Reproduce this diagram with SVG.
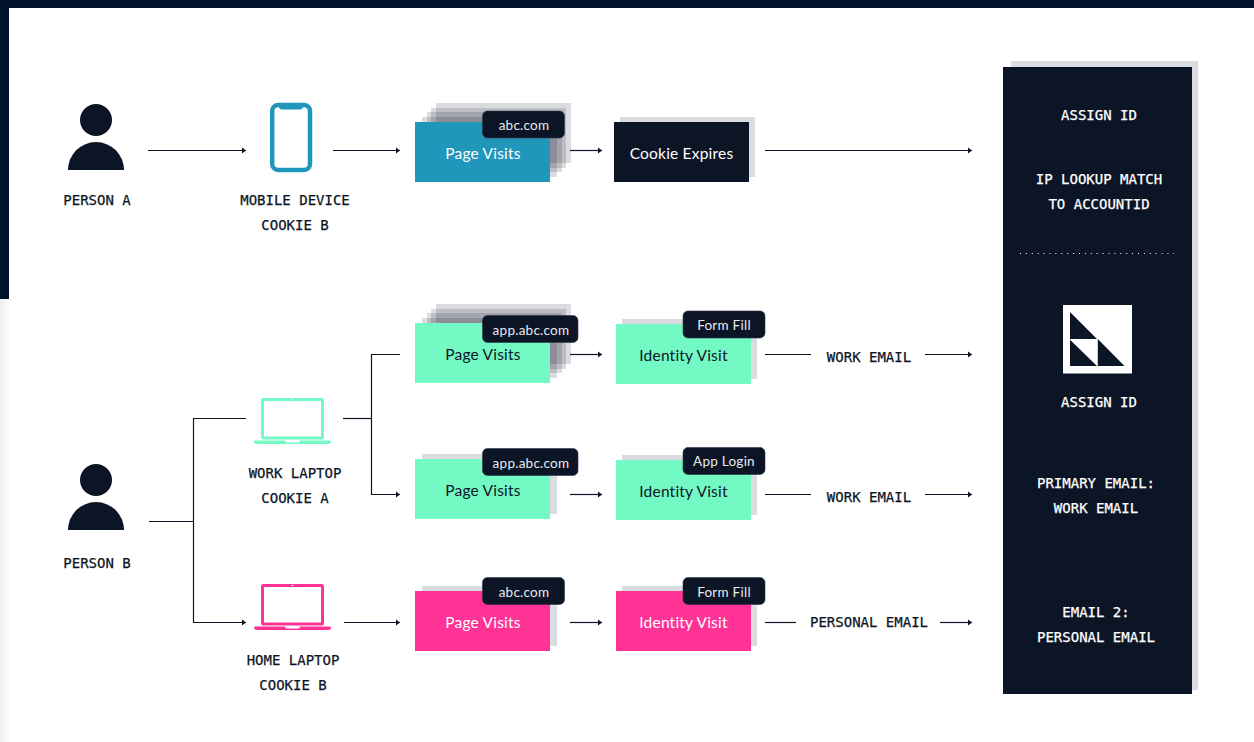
<svg xmlns="http://www.w3.org/2000/svg" width="1254" height="742" viewBox="0 0 1254 742">
<style>
.l{font-family:"DejaVu Sans Mono","Liberation Mono",monospace;font-size:14px;fill:#0c1526;stroke:#0c1526;stroke-width:.25;text-anchor:middle}
.w{fill:#fff;stroke:#fff}
.s{font-family:Lato,"Noto Sans",sans-serif;font-size:15.5px;text-anchor:middle;letter-spacing:.2px}
.t{font-family:Lato,"Noto Sans",sans-serif;font-size:13.5px;text-anchor:middle;fill:#e8eaee;letter-spacing:.25px}
.dk{fill:#0c1526}
.sh{fill:#0c1526;opacity:.15}
.tag{fill:#0c1526;stroke:#2b3446;stroke-width:.6}
.c{fill:none;stroke:#0c1526;stroke-width:1.2}
.a{marker-end:url(#ah)}
.g{fill:#73f9c3}.b{fill:#2196bb}.p{fill:#ff3396}
</style>
<defs>
<linearGradient id="strip" x1="0" y1="0" x2="1" y2="0"><stop offset="0" stop-color="#efefef"/><stop offset="1" stop-color="#fbfbfb"/></linearGradient>
<marker id="ah" markerUnits="userSpaceOnUse" markerWidth="6" markerHeight="8" refX="5" refY="4" orient="auto"><path d="M1 1L5 4L1 7Z" fill="#0c1526"/></marker>
<path id="person" d="M68 170a28 28 0 0 1 56 0Z"/>
<g id="laptop" fill="none">
<rect x="262.500" y="399.500" width="60" height="38.500" rx="1" stroke-width="3"/>
<circle cx="292.500" cy="399.500" r=".8" fill="#fff" stroke="none"/>
<path d="M255 440.500H285q0 2 2 2H298q2 0 2-2H330a1 1 0 0 1 1 1q0 2.500-3 2.500H257q-3 0-3-2.500a1 1 0 0 1 1-1Z" stroke="none" fill="currentColor"/>
</g>
</defs>
<rect width="1254" height="742" fill="#fff"/>
<rect x="0" y="299" width="9" height="443" fill="url(#strip)"/>
<path d="M0 0H1254V8H9V299H0Z" fill="#00112a"/>

<g id="connectors">
<path class="c a" d="M148 150.500H246"/>
<path class="c a" d="M333 150.500H400"/>
<path class="c a" d="M570 150.500H602"/>
<path class="c a" d="M765 150.500H972"/>
<path class="c" d="M149 521.500H193.500"/>
<path class="c a" d="M246 418.500H193.500V622.500H246"/>
<path class="c" d="M343 418.500H371.500"/>
<path class="c a" d="M400 354.500H371.500V494.500H400"/>
<path class="c a" d="M344 622.500H400"/>
<path class="c a" d="M570 354.500H602"/>
<path class="c" d="M765 354.500H811"/>
<path class="c a" d="M925 354.500H972"/>
<path class="c a" d="M570 494.500H602"/>
<path class="c" d="M765 494.500H811"/>
<path class="c a" d="M925 494.500H972"/>
<path class="c a" d="M570 622.500H602"/>
<path class="c" d="M765 622.500H796"/>
<path class="c a" d="M940 622.500H972"/>
</g>

<g id="person-a">
<circle class="dk" cx="96" cy="120" r="16"/><use href="#person" class="dk"/>
<text class="l" x="97" y="205">PERSON A</text>
</g>
<g id="mobile-device">
<path d="M272.200 111a6 6 0 0 1 6-6H304a6 6 0 0 1 6 6V164a6 6 0 0 1-6 6H278.200a6 6 0 0 1-6-6Z" fill="none" stroke="#2196bb" stroke-width="4.500"/>
<path d="M279 105H303V106.500a3 3 0 0 1-3 3H282a3 3 0 0 1-3-3Z" fill="#2196bb"/>
<text class="l" x="295" y="205">MOBILE DEVICE</text>
<text class="l" x="295" y="230">COOKIE B</text>
</g>
<g id="page-visits-a">
<rect class="sh" x="436" y="103" width="135" height="60"/><rect class="sh" x="431" y="108" width="135" height="60"/><rect class="sh" x="427" y="112" width="135" height="60"/><rect class="sh" x="422" y="117" width="135" height="60"/>
<rect class="b" x="415" y="122" width="135" height="60"/>
<text class="s w" style="stroke:none" x="483" y="159">Page Visits</text>
<rect class="tag" x="482.500" y="111" width="82" height="27" rx="5"/>
<text class="t" x="524" y="130">abc.com</text>
</g>
<g id="cookie-expires">
<rect class="sh" x="620" y="117" width="135" height="60"/>
<rect class="dk" x="614" y="122" width="135" height="60"/>
<text class="s w" style="stroke:none" x="681.500" y="159">Cookie Expires</text>
</g>

<g id="person-b">
<circle class="dk" cx="96" cy="480" r="16"/><use href="#person" y="360" class="dk"/>
<text class="l" x="97" y="568">PERSON B</text>
</g>
<g id="work-laptop">
<use href="#laptop" stroke="#73f9c3" color="#73f9c3"/>
<text class="l" x="295" y="478">WORK LAPTOP</text>
<text class="l" x="295" y="503">COOKIE A</text>
</g>
<g id="home-laptop">
<use href="#laptop" y="186" stroke="#ff3396" color="#ff3396"/>
<text class="l" x="293" y="665">HOME LAPTOP</text>
<text class="l" x="293" y="690">COOKIE B</text>
</g>

<g id="page-visits-b1">
<rect class="sh" x="436" y="304" width="135" height="60"/><rect class="sh" x="431" y="309" width="135" height="60"/><rect class="sh" x="427" y="313" width="135" height="60"/><rect class="sh" x="422" y="318" width="135" height="60"/>
<rect class="g" x="415" y="323" width="135" height="60"/>
<text class="s dk" x="483" y="360">Page Visits</text>
<rect class="tag" x="482.500" y="315.500" width="95.500" height="27" rx="5"/>
<text class="t" x="531" y="334.500">app.abc.com</text>
</g>
<g id="identity-visit-b1">
<rect class="sh" x="622" y="319" width="135" height="60"/>
<rect class="g" x="616" y="324" width="135" height="60"/>
<text class="s dk" x="683.500" y="361">Identity Visit</text>
<rect class="tag" x="683" y="311" width="82" height="27" rx="5"/>
<text class="t" x="724" y="330">Form Fill</text>
</g>
<g id="page-visits-b2">
<rect class="sh" x="422" y="454" width="135" height="60"/>
<rect class="g" x="415" y="459" width="135" height="60"/>
<text class="s dk" x="483" y="496">Page Visits</text>
<rect class="tag" x="482.500" y="448.500" width="95.500" height="27" rx="5"/>
<text class="t" x="531" y="467.500">app.abc.com</text>
</g>
<g id="identity-visit-b2">
<rect class="sh" x="622" y="455" width="135" height="60"/>
<rect class="g" x="616" y="460" width="135" height="60"/>
<text class="s dk" x="683.500" y="497">Identity Visit</text>
<rect class="tag" x="683" y="447.500" width="82" height="27" rx="5"/>
<text class="t" x="724" y="466">App Login</text>
</g>
<g id="page-visits-b3">
<rect class="sh" x="422" y="586" width="135" height="60"/>
<rect class="p" x="415" y="591" width="135" height="60"/>
<text class="s w" style="stroke:none" x="483" y="628">Page Visits</text>
<rect class="tag" x="482.500" y="577.500" width="82" height="27" rx="5"/>
<text class="t" x="524" y="596.500">abc.com</text>
</g>
<g id="identity-visit-b3">
<rect class="sh" x="622" y="586" width="135" height="60"/>
<rect class="p" x="616" y="591" width="135" height="60"/>
<text class="s w" style="stroke:none" x="683.500" y="628">Identity Visit</text>
<rect class="tag" x="683" y="577.500" width="82" height="27" rx="5"/>
<text class="t" x="724" y="596.500">Form Fill</text>
</g>

<g id="email-labels">
<text class="l" x="869" y="362">WORK EMAIL</text>
<text class="l" x="869" y="502">WORK EMAIL</text>
<text class="l" x="869" y="627">PERSONAL EMAIL</text>
</g>

<g id="id-panel">
<rect class="sh" x="1011" y="61" width="187" height="629"/>
<rect class="dk" x="1003" y="67" width="189" height="627"/>
<text class="l w" x="1099" y="120">ASSIGN ID</text>
<text class="l w" x="1099" y="184">IP LOOKUP MATCH</text>
<text class="l w" x="1099" y="208.500">TO ACCOUNTID</text>
<path d="M1020 253.500H1174" fill="none" stroke="#fff" stroke-width="1" stroke-dasharray="1 4.900"/>
<rect x="1063" y="305" width="69" height="68.500" fill="#fff"/>
<path class="dk" d="M1070 312L1097 339H1070ZM1070 339.800L1097 366H1070ZM1097.800 339L1124.500 366H1097.800Z"/>
<text class="l w" x="1099" y="406.500">ASSIGN ID</text>
<text class="l w" x="1096" y="488">PRIMARY EMAIL:</text>
<text class="l w" x="1096" y="512.500">WORK EMAIL</text>
<text class="l w" x="1096" y="617">EMAIL 2:</text>
<text class="l w" x="1096" y="642">PERSONAL EMAIL</text>
</g>
</svg>
